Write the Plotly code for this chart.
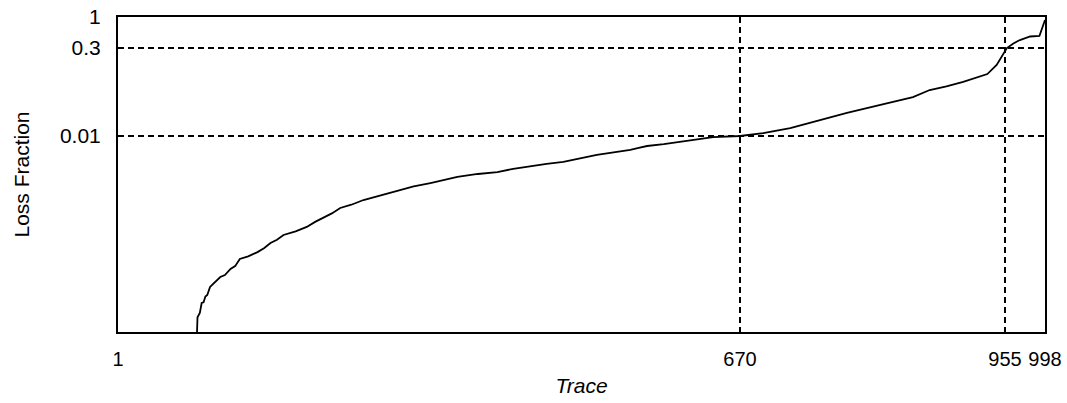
import plotly.graph_objects as go

# Data (trace index vs loss fraction, log scale)
trace_idx = [86, 86.5, 89, 91, 93, 95, 97, 100, 102, 106, 111, 116, 122, 127,
             132, 141, 151, 158, 165, 172, 179, 192, 204, 213, 222, 231, 240,
             252, 265, 283, 301, 319, 337, 352, 366, 388, 409, 426, 444, 462,
             480, 498, 516, 534, 552, 561, 570, 588, 606, 624, 641, 656, 670,
             695, 724, 749, 785, 821, 856, 874, 892, 910, 924, 936, 946, 952,
             957, 964, 971, 982, 992, 998]
loss_fraction = [5.1e-6, 9.0e-6, 1.06e-5, 1.56e-5, 1.6e-5, 2.0e-5, 2.13e-5,
                 2.9e-5, 3.13e-5, 3.6e-5, 4.27e-5, 4.6e-5, 5.82e-5, 6.5e-5,
                 8.57e-5, 9.5e-5, 1.12e-4, 1.3e-4, 1.59e-4, 1.8e-4, 2.17e-4,
                 2.5e-4, 2.96e-4, 3.6e-4, 4.19e-4, 5.0e-4, 6.17e-4, 7.0e-4,
                 8.4e-4, 1.0e-3, 1.19e-3, 1.42e-3, 1.62e-3, 1.85e-3, 2.05e-3,
                 2.3e-3, 2.48e-3, 2.8e-3, 3.13e-3, 3.4e-3, 3.66e-3, 4.2e-3,
                 4.8e-3, 5.3e-3, 5.82e-3, 6.3e-3, 6.79e-3, 7.3e-3, 7.92e-3,
                 8.8e-3, 9.6e-3, 9.8e-3, 0.01,
                 0.0112, 0.0136, 0.0172, 0.0244, 0.0332, 0.0452, 0.0593, 0.068,
                 0.0809, 0.095, 0.110, 0.156, 0.230, 0.301, 0.36, 0.410, 0.470,
                 0.480, 0.891]

x_tick_vals = [1, 670, 955, 998]
x_tick_text = ["1", "670", "955", "998"]
y_tick_vals = [0.01, 0.3, 1]
y_tick_text = ["0.01", "0.3", "1"]

font_family = "Liberation Sans, Arial, sans-serif"

fig = go.Figure()
fig.add_trace(go.Scatter(
    x=trace_idx, y=loss_fraction, mode="lines",
    line=dict(color="black", width=1.8),
    showlegend=False,
))

fig.update_layout(
    width=1067, height=403,
    margin=dict(l=118, r=22, t=17, b=71),
    paper_bgcolor="white", plot_bgcolor="white",
    font=dict(family=font_family, size=21, color="black"),
    xaxis=dict(
        range=[1, 998], automargin=False,
        tickmode="array", tickvals=x_tick_vals, ticktext=x_tick_text,
        showgrid=True, gridcolor="black", gridwidth=1.8, griddash="6px,4px",
        showline=True, linecolor="black", linewidth=2, mirror=True,
        ticks="", ticklabelstandoff=8, zeroline=False,
        tickfont=dict(size=20),
        title=dict(text="<i>Trace</i>", standoff=9, font=dict(size=21)),
    ),
    yaxis=dict(
        type="log", range=[-5.294, 0], automargin=False,
        tickmode="array", tickvals=y_tick_vals, ticktext=y_tick_text,
        showgrid=True, gridcolor="black", gridwidth=1.8, griddash="6px,4px",
        showline=True, linecolor="black", linewidth=2, mirror=True,
        ticks="", ticklabelstandoff=11, zeroline=False,
        tickfont=dict(size=21),
        title=dict(text="Loss Fraction", standoff=25, font=dict(size=21)),
    ),
)

fig.write_html("out.html")
